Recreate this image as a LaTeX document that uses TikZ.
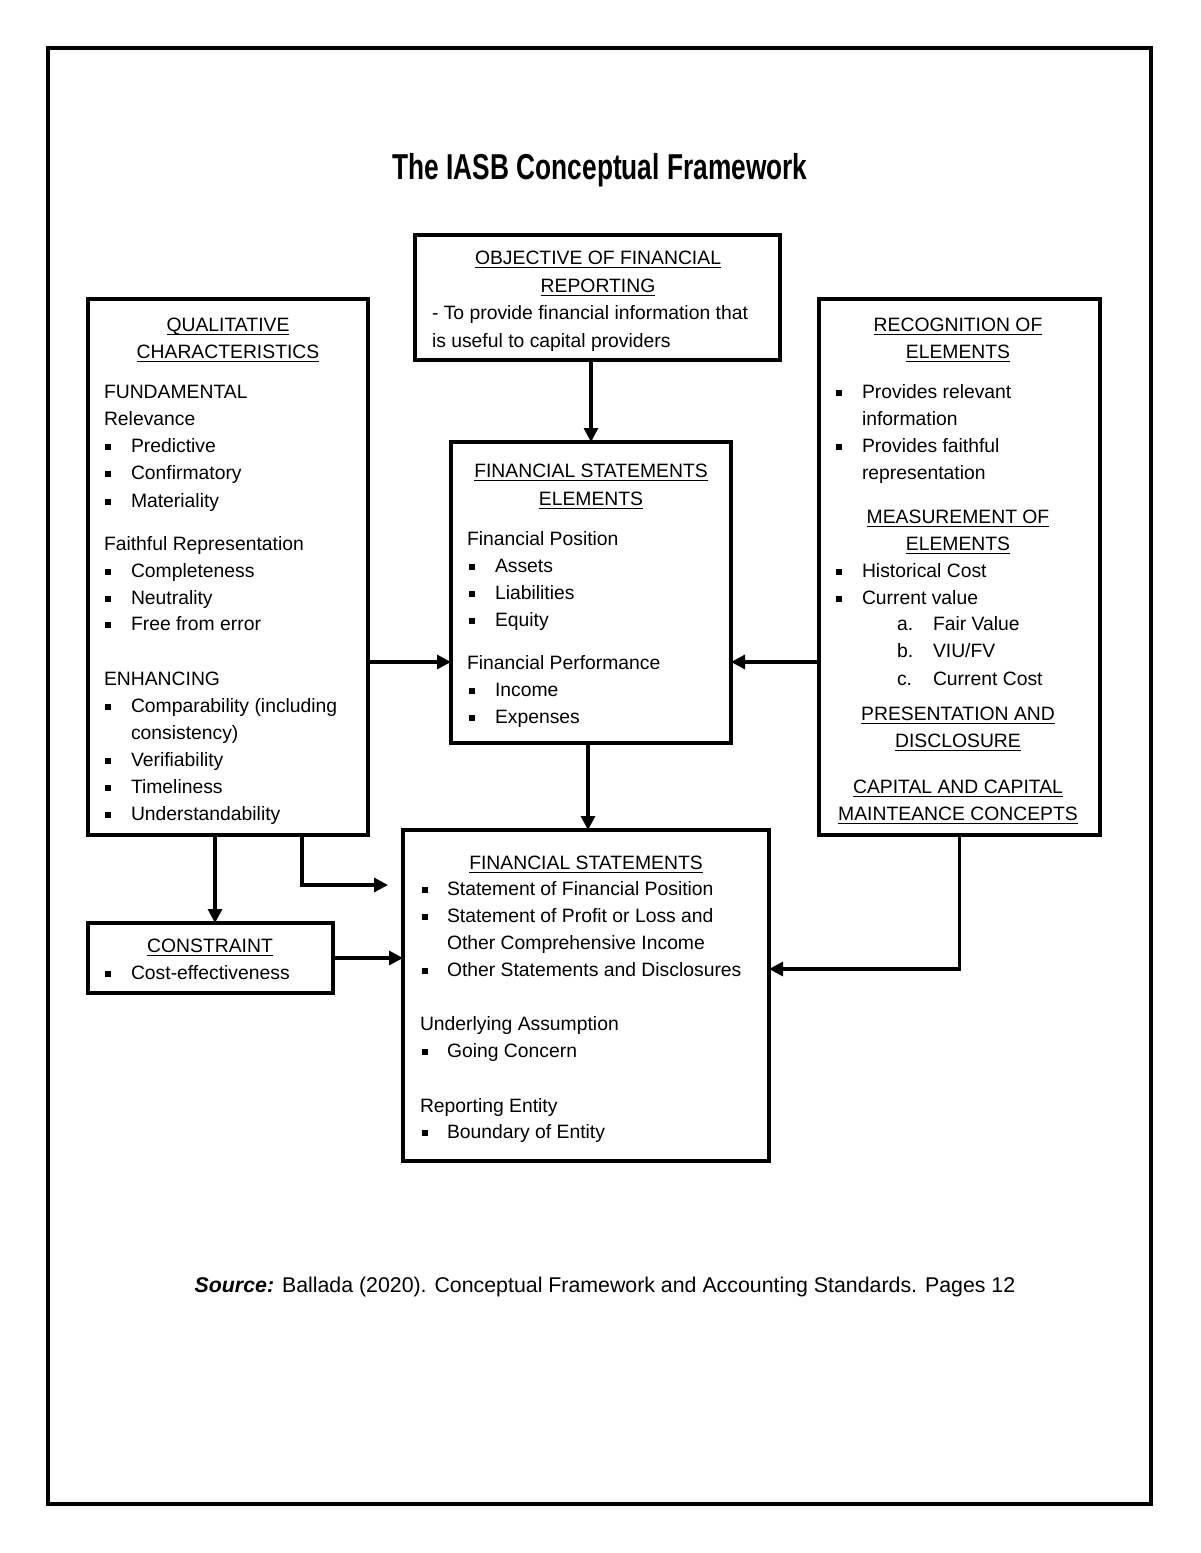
\documentclass[tikz,border=0pt]{standalone}
\usepackage{fontspec}
\usepackage{graphicx}
\setmainfont{Liberation Sans}
\usetikzlibrary{arrows.meta,calc}
\newcounter{tn}
\newcommand{\ul}[1]{\setbox0\hbox{#1}\rlap{\rule[-3pt]{\wd0}{1.1pt}}\box0}
\tikzset{
 txt/.style={inner sep=0pt, outer sep=0pt, font=\fontsize{14.5}{17}\selectfont, text=black},
 box/.style={draw, line width=2.3pt, inner sep=0pt, outer sep=0pt},
 arr/.style={line width=2.3pt, -{Triangle[length=10.5pt,width=10.5pt]}},
}
\newcommand{\TL}[3]{\stepcounter{tn}\node[txt,anchor=base west] (t\arabic{tn}) at (#1,#2) {#3};}
\newcommand{\TC}[3]{\stepcounter{tn}\node[txt,anchor=base] (t\arabic{tn}) at (#1,#2) {\ul{#3}};}
\newcommand{\BL}[4]{\stepcounter{tn}\node[txt,anchor=base west] (t\arabic{tn}) at (#1,#3) {\rule[1.6pt]{4.6pt}{4.6pt}};\TL{#2}{#3}{#4}}
\newcommand{\BX}[5]{\node[box, minimum width={(#4-#2)*0.75pt}, minimum height={(#5-#3)*0.75pt}] (#1) at ({(#2+#4)/2},{(#3+#5)/2}) {};}
\begin{document}
\begin{tikzpicture}[x=0.75pt,y=-0.75pt]
\useasboundingbox (0,0) rectangle (1200,1553);
\draw[line width=3pt] (48,48) rectangle (1151,1504);
\node[anchor=base] (title) at (600,179) {\scalebox{0.73}[1]{\fontsize{27}{30}\selectfont\bfseries The IASB Conceptual Framework}};
% objective
\BX{obj}{415}{235}{780}{360}
\TC{598}{264}{OBJECTIVE OF FINANCIAL}
\TC{598}{292}{REPORTING}
\TL{432}{319}{- To provide financial information that}
\TL{432}{347}{is useful to capital providers}
% qualitative
\BX{qual}{88}{299}{368}{835}
\TC{228}{331}{QUALITATIVE}
\TC{228}{358}{CHARACTERISTICS}
\TL{104}{398}{FUNDAMENTAL}
\TL{104}{425}{Relevance}
\BL{105}{131}{452}{Predictive}
\BL{105}{131}{479}{Confirmatory}
\BL{105}{131}{507}{Materiality}
\TL{104}{550}{Faithful Representation}
\BL{105}{131}{577}{Completeness}
\BL{105}{131}{604}{Neutrality}
\BL{105}{131}{630}{Free from error}
\TL{104}{685}{ENHANCING}
\BL{105}{131}{712}{Comparability (including}
\TL{131}{739}{consistency)}
\BL{105}{131}{766}{Verifiability}
\BL{105}{131}{793}{Timeliness}
\BL{105}{131}{820}{Understandability}
% recognition
\BX{rec}{819}{299}{1100}{835}
\TC{958}{331}{RECOGNITION OF}
\TC{958}{358}{ELEMENTS}
\BL{836}{862}{398}{Provides relevant}
\TL{862}{425}{information}
\BL{836}{862}{452}{Provides faithful}
\TL{862}{479}{representation}
\TC{958}{523}{MEASUREMENT OF}
\TC{958}{550}{ELEMENTS}
\BL{836}{862}{577}{Historical Cost}
\BL{836}{862}{604}{Current value}
\TL{897}{630}{a.}\TL{933}{630}{Fair Value}
\TL{897}{657}{b.}\TL{933}{657}{VIU/FV}
\TL{897}{685}{c.}\TL{933}{685}{Current Cost}
\TC{958}{720}{PRESENTATION AND}
\TC{958}{747}{DISCLOSURE}
\TC{958}{793}{CAPITAL AND CAPITAL}
\TC{958}{820}{MAINTEANCE CONCEPTS}
% fs elements
\BX{fse}{451}{442}{731}{743}
\TC{591}{477}{FINANCIAL STATEMENTS}
\TC{591}{505}{ELEMENTS}
\TL{467}{545}{Financial Position}
\BL{469}{495}{572}{Assets}
\BL{469}{495}{599}{Liabilities}
\BL{469}{495}{626}{Equity}
\TL{467}{669}{Financial Performance}
\BL{469}{495}{696}{Income}
\BL{469}{495}{723}{Expenses}
% financial statements
\BX{fs}{403}{830}{769}{1161}
\TC{586}{869}{FINANCIAL STATEMENTS}
\BL{422}{447}{895}{Statement of Financial Position}
\BL{422}{447}{922}{Statement of Profit or Loss and}
\TL{447}{949}{Other Comprehensive Income}
\BL{422}{447}{976}{Other Statements and Disclosures}
\TL{420}{1030}{Underlying Assumption}
\BL{422}{447}{1057}{Going Concern}
\TL{420}{1112}{Reporting Entity}
\BL{422}{447}{1138}{Boundary of Entity}
% constraint
\BX{con}{88}{923}{333}{993}
\TC{210}{952}{CONSTRAINT}
\BL{105}{131}{979}{Cost-effectiveness}
% arrows
\coordinate (x591) at (591,0);
\draw[arr] (obj.south -| x591) -- (fse.north -| x591);
\coordinate (y662) at (0,662);
\draw[arr] (qual.east |- y662) -- (fse.west |- y662);
\draw[arr] (rec.west |- y662) -- (fse.east |- y662);
\coordinate (x588) at (588,0);
\draw[arr] (fse.south -| x588) -- (fs.north -| x588);
\coordinate (x215) at (215,0);
\draw[arr] (qual.south -| x215) -- (con.north -| x215);
\coordinate (x302) at (302,0);
\coordinate (qe) at (388,885);
\draw[arr] (qual.south -| x302) |- (qe);
\draw[arr] (con.east) -- (con.east -| fs.west);
\coordinate (y969) at (0,969);
\draw[arr] (rec.south) |- (fs.east |- y969);
% source
\node[anchor=base] (src) at (605,1292) {\fontsize{16}{19}\selectfont\textbf{\textit{Source:}} Ballada (2020). Conceptual Framework and Accounting Standards. Pages 12};
\end{tikzpicture}
\end{document}
